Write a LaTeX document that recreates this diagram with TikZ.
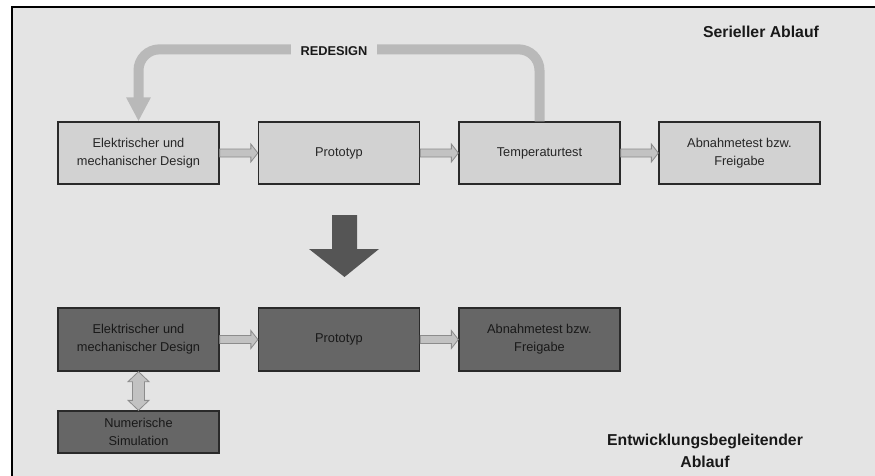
\documentclass[tikz,border=0pt]{standalone}
\usepackage{fontspec}
\setmainfont{Liberation Sans}
\usetikzlibrary{calc,arrows.meta}
\definecolor{bgc}{HTML}{E4E4E4}
\definecolor{lightbox}{HTML}{D2D2D2}
\definecolor{darkbox}{HTML}{666666}
\definecolor{boxline}{HTML}{2A2A2A}
\definecolor{redes}{HTML}{B9B9B9}
\definecolor{smallfill}{HTML}{C2C2C2}
\definecolor{smallline}{HTML}{8C8C8C}
\definecolor{bigarrow}{HTML}{555555}
\tikzset{
  boxbase/.style={draw=boxline, line width=1.3pt, minimum width=161pt, align=center,
    font=\fontsize{12.8}{18}\selectfont, inner sep=0pt},
  topbox/.style={boxbase, fill=lightbox, text=black!85, minimum height=62pt},
  botbox/.style={boxbase, fill=darkbox, text=black!90, minimum height=63pt},
  simbox/.style={boxbase, fill=darkbox, text=black!90, minimum height=42pt},
  smallarrow/.style={draw=smallline, fill=smallfill, line width=0.8pt, line join=miter},
  titletext/.style={font=\bfseries\fontsize{15.8}{22}\selectfont, align=center, text=black!90}
}
\begin{document}
\begin{tikzpicture}[x=1pt,y=-1pt]
\useasboundingbox (0,0) rectangle (875,476);
\fill[white] (0,0) rectangle (875,476);
\fill[bgc] (12,7) rectangle (875,476);
\draw[black, line width=1.5pt] (12,476) -- (12,7) -- (875,7);

% top row
\node[topbox] (t1) at (138.5,153) {Elektrischer und\\mechanischer Design};
\node[topbox] (t2) at (339,153) {Prototyp};
\node[topbox] (t3) at (539.5,153) {Temperaturtest};
\node[topbox] (t4) at (739.5,153) {Abnahmetest bzw.\\Freigabe};

% bottom row
\node[botbox] (b1) at (138.5,339.5) {Elektrischer und\\mechanischer Design};
\node[botbox] (b2) at (339,339.5) {Prototyp};
\node[botbox] (b3) at (539.5,339.5) {Abnahmetest bzw.\\Freigabe};
\node[simbox] (s1) at (138.5,432) {Numerische\\Simulation};

% small arrows
\foreach \a/\b in {t1/t2,t2/t3,t3/t4,b1/b2,b2/b3}{
  \draw[smallarrow] ($(\a.east)+(0,-4)$) -- ($(\b.west)+(-7,-4)$) -- ($(\b.west)+(-7,-9)$)
    -- (\b.west) -- ($(\b.west)+(-7,9)$) -- ($(\b.west)+(-7,4)$) -- ($(\a.east)+(0,4)$) -- cycle;
}

% double arrow
\draw[smallarrow] (b1.south) -- ($(b1.south)+(10.5,10)$) -- ($(b1.south)+(6,10)$)
  -- ($(s1.north)+(6,-10)$) -- ($(s1.north)+(10.5,-10)$) -- (s1.north)
  -- ($(s1.north)+(-10.5,-10)$) -- ($(s1.north)+(-6,-10)$) -- ($(b1.south)+(-6,10)$)
  -- ($(b1.south)+(-10.5,10)$) -- cycle;

% redesign loop
\coordinate (rtop) at ($(t3.north)+(0,-72)$);
\draw[redes, line width=10pt, rounded corners=21pt, -{Triangle[length=24pt,width=23pt]}]
  (t3.north) -- (rtop) -- (rtop -| t1.north) -- (t1.north);
\node[fill=bgc, inner xsep=10pt, inner ysep=2pt, font=\bfseries\fontsize{12.8}{14}\selectfont, text=black!90]
  (redesign) at (334,51) {REDESIGN};

% big arrow
\fill[bigarrow] (332,215) -- (357,215) -- (357,249) -- (379,249) -- (344.5,277)
  -- (309,249) -- (332,249) -- cycle;

% titles
\node[titletext] (ser) at (761,32) {Serieller Ablauf};
\node[titletext] (ent) at (705,451) {Entwicklungsbegleitender\\Ablauf};
\end{tikzpicture}
\end{document}
